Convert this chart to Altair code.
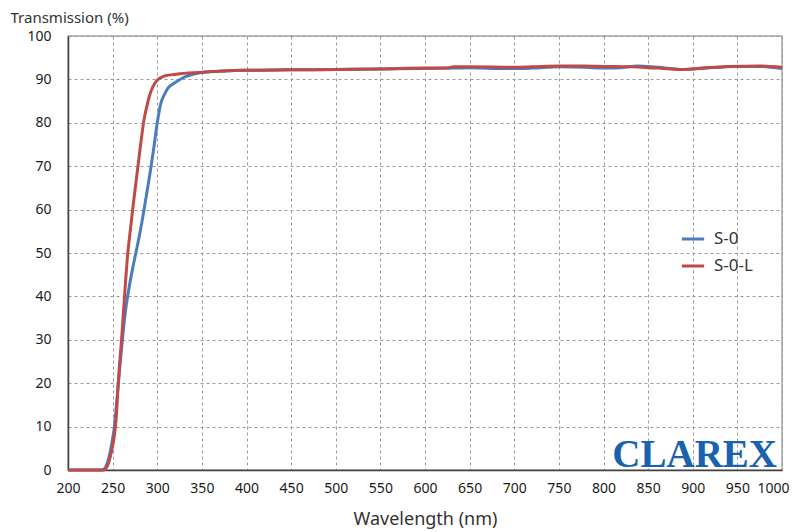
import altair as alt
import pandas as pd

# S-0 (blue)
s0_wl = [200, 238, 241, 243, 246, 249, 252, 256, 260, 264, 268, 272, 276, 280, 284, 288,
         292, 296, 300, 304, 308, 312, 318, 324, 330, 340, 350, 365, 380, 400, 450, 500,
         550, 600, 630, 650, 680, 700, 720, 750, 780, 800, 820, 838, 860, 890, 910, 945,
         975, 1000]
s0_t = [0, 0, 0.3, 1, 3, 6, 10, 19, 28, 36, 41.5, 46, 50, 54, 58.5, 63.5,
        68.5, 74, 80, 84.5, 86.5, 88, 89, 89.8, 90.5, 91.2, 91.6, 91.8, 92, 92.1, 92.2, 92.3,
        92.4, 92.5, 92.6, 92.7, 92.5, 92.5, 92.6, 92.9, 92.8, 92.6, 92.7, 93.1, 92.8, 92.3, 92.5, 93,
        93, 92.5]

# S-0-L (red)
s0l_wl = [200, 240, 243, 246, 249, 252, 254, 256, 258, 260, 262, 264, 267, 270, 273, 276,
          279, 282, 285, 288, 291, 294, 297, 300, 304, 310, 318, 325, 335, 348, 360, 380,
          400, 450, 500, 550, 600, 625, 632, 650, 700, 720, 750, 780, 800, 830, 860, 890,
          910, 940, 975, 1000]
s0l_t = [0, 0, 0.5, 2, 4.5, 8, 12, 19, 25, 30, 36, 42, 50, 55.5, 61, 66,
         71, 76, 80.5, 83.5, 86, 87.8, 89, 89.8, 90.4, 90.9, 91.1, 91.3, 91.5, 91.6, 91.8, 92,
         92.1, 92.2, 92.3, 92.4, 92.6, 92.6, 92.9, 92.9, 92.8, 92.9, 93.1, 93.1, 93, 92.9, 92.6, 92.3,
         92.6, 93, 93.1, 92.8]

series_names = ["S-0", "S-0-L"]
colors = ["#4a7cc0", "#c04a47"]

df = pd.concat([
    pd.DataFrame({"wl": s0_wl, "t": s0_t, "series": "S-0", "order": 0}),
    pd.DataFrame({"wl": s0l_wl, "t": s0l_t, "series": "S-0-L", "order": 1}),
])

x_ticks = list(range(200, 1001, 50))
y_ticks = list(range(0, 101, 10))
FONT = "Noto Sans"

x = alt.X("wl:Q", scale=alt.Scale(domain=[200, 1000], nice=False, zero=False),
          axis=alt.Axis(values=x_ticks, title="Wavelength (nm)", grid=True, format="d",
                        labelOverlap=False, labelFlush=False,
                        labelAlign={"condition": {"test": "datum.value == 1000", "value": "right"},
                                    "value": "center"},
                        labelOffset={"condition": {"test": "datum.value == 1000", "value": 7},
                                     "value": 0},
                        labelFontSize=14, labelPadding=11, tickSize=0,
                        titleFontSize=18, titleFontWeight="normal",
                        titleBaseline="alphabetic", titleY=54, titleColor="#333"))
y = alt.Y("t:Q", scale=alt.Scale(domain=[0, 100], nice=False),
          axis=alt.Axis(values=y_ticks, title="Transmission (%)", grid=True,
                        labelFontSize=14, labelPadding=17, tickSize=0,
                        titleFontSize=15, titleFontWeight="normal", titleAngle=0,
                        titleAlign="left", titleBaseline="alphabetic",
                        titleX=-58, titleY=-14, titleColor="#333"))

lines = alt.Chart(df).mark_line(strokeWidth=3, interpolate="monotone").encode(
    x=x, y=y,
    color=alt.Color("series:N", scale=alt.Scale(domain=series_names, range=colors),
                    legend=alt.Legend(title=None, orient="none", legendX=612, legendY=190,
                                      symbolType="stroke", symbolSize=500,
                                      symbolStrokeWidth=3, labelFontSize=17,
                                      labelColor="#333", rowPadding=6, labelOffset=8,
                                      padding=0, labelFont=FONT)),
    order="order:Q",
)

logo_df = pd.DataFrame({"wl": [1000], "t": [0], "label": ["CLAREX"]})
logo = alt.Chart(logo_df).mark_text(
    font="Liberation Serif", fontWeight="bold", fontSize=39, color="#1862b0",
    align="right", baseline="alphabetic", dx=-5, dy=-3
).encode(x="wl:Q", y="t:Q", text="label:N")

chart = alt.layer(lines, logo).properties(
    width=714, height=434,
    autosize=alt.AutoSizeParams(type="none"),
    padding={"left": 60, "top": 28, "right": 8, "bottom": 62},
).configure_view(stroke="#a6a6a6", strokeWidth=1.5).configure_axis(
    labelFont=FONT, titleFont=FONT, labelColor="#1a1a1a",
    gridColor="#9a9a9a", gridDash=[3, 3], gridWidth=1,
    domainColor="#404040", domainWidth=1.5,
)

chart.save("out.html", embed_options={"renderer": "svg", "actions": False})
